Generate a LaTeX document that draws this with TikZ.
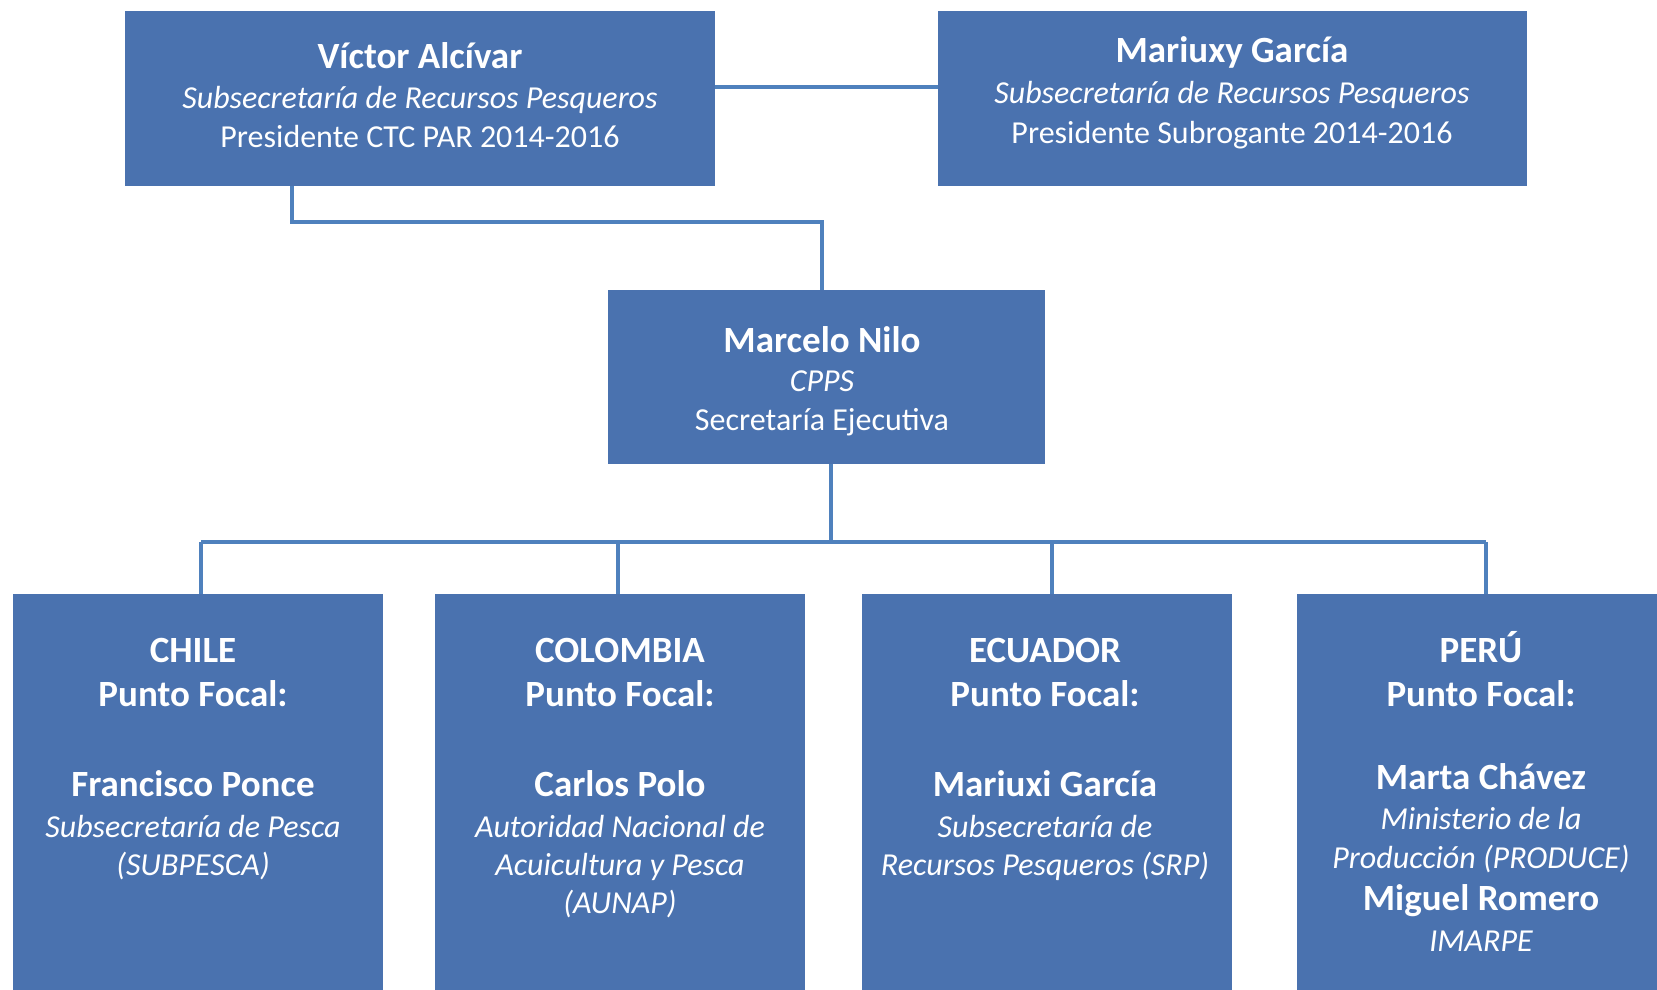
\documentclass[tikz,border=0pt]{standalone}
\usepackage{fontspec}
\setmainfont{Carlito}
\definecolor{boxblue}{RGB}{74,114,175}
\definecolor{lineblue}{RGB}{79,129,189}
\definecolor{bgedge}{RGB}{228,237,248}
\pgfdeclarehorizontalshading{bgshade}{100bp}{color(0bp)=(bgedge); color(18bp)=(white); color(80bp)=(white); color(100bp)=(bgedge)}
\begin{document}
\begin{tikzpicture}[x=1pt,y=-1pt,
  orgbox/.style={fill=boxblue, draw=none, inner sep=0pt, outer sep=0pt, rectangle},
  conn/.style={draw=lineblue, line width=3.6pt},
  txt/.style={text=white, inner sep=0pt, anchor=base},
  nm/.style={txt, font=\fontsize{37}{40}\selectfont\bfseries},
  it/.style={txt, font=\fontsize{32}{36}\selectfont\itshape},
  rm/.style={txt, font=\fontsize{32}{36}\selectfont}]
\clip (0,0) rectangle (1657,990);
\shade[shading=bgshade] (0,0) rectangle (1657,990);

% boxes
\node[orgbox, minimum width=590pt, minimum height=174pt] (tl) at (420,98.5) {};
\node[orgbox, minimum width=589pt, minimum height=174pt] (tr) at (1232.5,98.5) {};
\node[orgbox, minimum width=437pt, minimum height=174pt] (mid) at (826.5,377) {};
\node[orgbox, minimum width=370pt, minimum height=396pt] (chile) at (198,792) {};
\node[orgbox, minimum width=370pt, minimum height=396pt] (colombia) at (620,792) {};
\node[orgbox, minimum width=370pt, minimum height=396pt] (ecuador) at (1047,792) {};
\node[orgbox, minimum width=370pt, minimum height=396pt] (peru) at (1482,792) {};

% connector points
\coordinate (tlTop) at (292,222);
\coordinate (midIn) at (822,222);
\coordinate (bus) at (831,542);
\coordinate (hl) at (420,87);
\coordinate (dChile) at (201,542);
\coordinate (dColombia) at (618,542);
\coordinate (dEcuador) at (1052,542);
\coordinate (dPeru) at (1486,542);

% connectors
\draw[conn] (tl.east |- hl) -- (tr.west |- hl);
\draw[conn] (tlTop |- tl.south) -- (tlTop) -- (midIn) -- (midIn |- mid.north);
\draw[conn] (bus |- mid.south) -- (bus);
\draw[conn] (dChile) -- (dPeru);
\draw[conn] (dChile) -- (dChile |- chile.north);
\draw[conn] (dColombia) -- (dColombia |- colombia.north);
\draw[conn] (dEcuador) -- (dEcuador |- ecuador.north);
\draw[conn] (dPeru) -- (dPeru |- peru.north);

% texts top left
\node[nm] (tl1) at (420,68) {Víctor Alcívar};
\node[it] (tl2) at (420,108) {Subsecretaría de Recursos Pesqueros};
\node[rm] (tl3) at (420,147) {Presidente CTC PAR 2014-2016};
% top right
\node[nm] (tr1) at (1232,63) {Mariuxy García};
\node[it] (tr2) at (1232,103) {Subsecretaría de Recursos Pesqueros};
\node[rm] (tr3) at (1232,143) {Presidente Subrogante 2014-2016};
% middle
\node[nm] (m1) at (822,352) {Marcelo Nilo};
\node[it] (m2) at (822,391) {CPPS};
\node[rm] (m3) at (822,430) {Secretaría Ejecutiva};
% chile
\node[nm] (c1) at (193,662) {CHILE};
\node[nm] (c2) at (193,706) {Punto Focal:};
\node[nm] (c3) at (193,796) {Francisco Ponce};
\node[it] (c4) at (193,837) {Subsecretaría de Pesca};
\node[it] (c5) at (193,875) {(SUBPESCA)};
% colombia
\node[nm] (o1) at (620,662) {COLOMBIA};
\node[nm] (o2) at (620,706) {Punto Focal:};
\node[nm] (o3) at (620,796) {Carlos Polo};
\node[it] (o4) at (620,837) {Autoridad Nacional de};
\node[it] (o5) at (620,875) {Acuicultura y Pesca};
\node[it] (o6) at (620,913) {(AUNAP)};
% ecuador
\node[nm] (e1) at (1045,662) {ECUADOR};
\node[nm] (e2) at (1045,706) {Punto Focal:};
\node[nm] (e3) at (1045,796) {Mariuxi García};
\node[it] (e4) at (1045,837) {Subsecretaría de};
\node[it] (e5) at (1045,875) {Recursos Pesqueros (SRP)};
% peru
\node[nm] (p1) at (1481,662) {PERÚ};
\node[nm] (p2) at (1481,706) {Punto Focal:};
\node[nm] (p3) at (1481,789) {Marta Chávez};
\node[it] (p4) at (1481,829) {Ministerio de la};
\node[it] (p5) at (1481,868) {Producción (PRODUCE)};
\node[nm] (p6) at (1481,910) {Miguel Romero};
\node[it] (p7) at (1481,951) {IMARPE};
\end{tikzpicture}
\end{document}
